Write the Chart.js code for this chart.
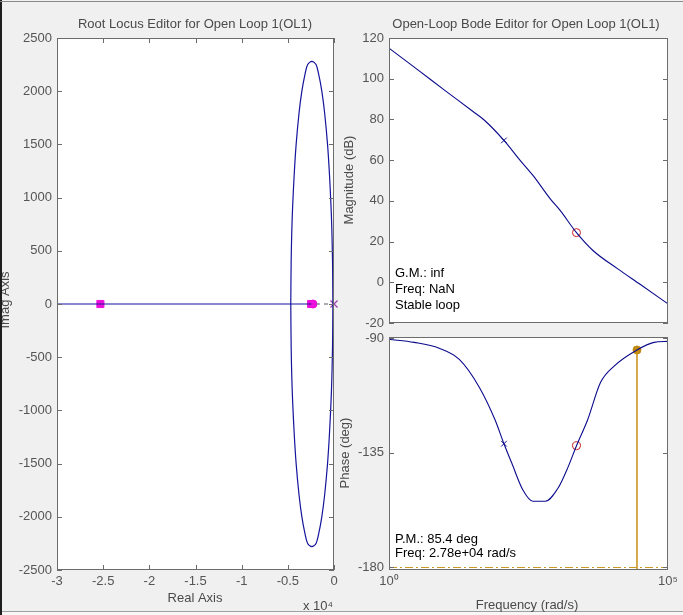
<!DOCTYPE html>
<html>
<head>
<meta charset="utf-8">
<script src="https://cdn.jsdelivr.net/npm/chart.js@4.4.0/dist/chart.umd.min.js"></script>
<style>
  html, body { margin: 0; padding: 0; }
  body { width: 683px; height: 615px; background: #f0f0f0; position: relative; overflow: hidden; }
  canvas { position: absolute; }
  #locus { left: 0; top: 0; }
  #mag { left: 336px; top: 0; }
  #phase { left: 336px; top: 320px; }
  .edge-left { position: absolute; left: 0; top: 0; width: 2px; height: 615px; background: #1e1e1e; }
  .edge-top { position: absolute; left: 0; top: 1px; width: 683px; height: 1px; background: #8a8a8a; }
  .edge-bottom { position: absolute; left: 0; top: 611px; width: 683px; height: 4px; background: #f7f7f7; border-top: 1px solid #a0a0a0; }
</style>
</head>
<body>
<div class="edge-bottom"></div>
<canvas id="locus" width="345" height="615"></canvas>
<canvas id="mag" width="347" height="340"></canvas>
<canvas id="phase" width="347" height="295"></canvas>
<div class="edge-left"></div>
<div class="edge-top"></div>
<script>
// ---- root locus (real axis in units of 1e4) ----
var realTicks = [-3, -2.5, -2, -1.5, -1, -0.5, 0];
var imagTicks = [-2500, -2000, -1500, -1000, -500, 0, 500, 1000, 1500, 2000, 2500];

var branchRe = [-0.468, -0.464, -0.453, -0.432, -0.410, -0.378, -0.348, -0.316, -0.285, -0.24,
                -0.195, -0.164, -0.132, -0.102, -0.070, -0.048, -0.027, -0.016, -0.012];
var upperIm  = [0, 400, 800, 1200, 1500, 1800, 2000, 2150, 2250, 2280,
                2250, 2150, 2000, 1800, 1500, 1200, 800, 400, 0];
var lowerIm  = [0, -400, -800, -1200, -1500, -1800, -2000, -2150, -2250, -2280,
                -2250, -2150, -2000, -1800, -1500, -1200, -800, -400, 0];
var realAxisRe = [-3, -0.245];
var dashedRe = [-0.195, -0.03];
var clPolesRe = [-2.53, -0.248];
var clZeroRe = [-0.228];
var olPoleRe = [0];

// ---- bode ----
var magFreq = [1, 3.16, 10, 31.6, 51.3, 114.8, 223.9, 380.2, 776.2, 1175, 2291, 4571, 12590, 31620, 100000];
var magDb   = [115, 104.7, 94.3, 84, 79.6, 69.7, 59.9, 52.5, 41, 35.2, 24.4, 15.5, 6.6, -1, -10.6];
var magTicks = [-20, 0, 20, 40, 60, 80, 100, 120];

var phFreq = [1, 2.82, 7.94, 18.2, 41.7, 79.4, 114.8, 158.5, 251.2, 380.2, 631, 1072, 1622, 2291,
              3631, 6166, 10720, 27800, 56230, 100000];
var phDeg  = [-90.4, -91.6, -93.9, -98.3, -109.3, -122, -131.4, -139, -149.6, -154, -154, -148.8,
              -140.5, -132.2, -122, -107.4, -101, -94.6, -91.6, -91.2];
var phaseTicks = [-180, -135, -90];
var freqTickValues = [1, 100000];
var freqTickLabels = ['10\u2070', '10\u2075'];

var olPoleFreq = 114.8, olPoleMag = 69.7, olPolePh = -131.4;
var zeroFreq = 2291, zeroMag = 24.4, zeroPh = -132.2;
var pmFreq = 27800, pmPhase = -94.6, phaseFloor = -180;

Chart.defaults.font.family = '"Liberation Sans", Arial, sans-serif';
Chart.defaults.font.size = 13;
Chart.defaults.color = '#555';

function pts(xs, ys) { return xs.map(function (x, i) { return { x: x, y: ys[i] }; }); }

var frame = {
  id: 'frame',
  beforeDatasetsDraw: function (chart) {
    var a = chart.chartArea, c = chart.ctx;
    c.save();
    c.fillStyle = '#ffffff';
    c.fillRect(a.left, a.top, a.right - a.left, a.bottom - a.top);
    c.restore();
  },
  afterDraw: function (chart, args, o) {
    var a = chart.chartArea, c = chart.ctx;
    c.save();
    c.strokeStyle = '#6c6c6c';
    c.lineWidth = 1;
    c.strokeRect(a.left + 0.5, a.top + 0.5, a.right - a.left - 1, a.bottom - a.top - 1);
    c.beginPath();
    if (o.xTicks) {
      chart.scales.x.ticks.forEach(function (t) {
        var p = Math.round(chart.scales.x.getPixelForValue(t.value)) + 0.5;
        c.moveTo(p, a.top); c.lineTo(p, a.top + 5);
        c.moveTo(p, a.bottom); c.lineTo(p, a.bottom - 5);
      });
    }
    chart.scales.y.ticks.forEach(function (t) {
      var p = Math.round(chart.scales.y.getPixelForValue(t.value)) + 0.5;
      c.moveTo(a.left, p); c.lineTo(a.left + 5, p);
      c.moveTo(a.right, p); c.lineTo(a.right - 5, p);
    });
    c.stroke();
    (o.texts || []).forEach(function (t) {
      c.save();
      c.font = (t.size || 13) + 'px "Liberation Sans", Arial, sans-serif';
      c.fillStyle = t.color || '#4a4a4a';
      c.textAlign = t.align || 'center';
      c.textBaseline = 'middle';
      c.translate(t.x, t.y);
      if (t.rot) c.rotate(t.rot);
      c.fillText(t.t, 0, 0);
      c.restore();
    });
    c.restore();
  }
};

function fixW(w) { return function (s) { s.width = w; }; }
function fixH(h) { return function (s) { s.height = h; }; }

// ---- root locus chart ----
new Chart(document.getElementById('locus'), {
  type: 'scatter',
  data: {
    datasets: [
      { data: pts(realAxisRe, [0, 0]), showLine: true, borderColor: '#14149c', borderWidth: 1.2, pointRadius: 0 },
      { data: pts(branchRe, upperIm), showLine: true, borderColor: '#14149c', borderWidth: 1.2, pointRadius: 0, tension: 0.3 },
      { data: pts(branchRe, lowerIm), showLine: true, borderColor: '#14149c', borderWidth: 1.2, pointRadius: 0, tension: 0.3 },
      { data: pts(dashedRe, [0, 0]), showLine: true, borderColor: '#55556a', borderWidth: 1, borderDash: [4, 4], pointRadius: 0 },
      { data: pts(clZeroRe, [0]), pointStyle: 'circle', pointRadius: 4, backgroundColor: '#ee10dd', borderColor: '#ee10dd', borderWidth: 1 },
      { data: pts(clPolesRe, [0, 0]), pointStyle: 'rect', pointRadius: 5, backgroundColor: '#ee10dd', borderColor: '#ee10dd', borderWidth: 1 },
      { data: pts(olPoleRe, [0]), pointStyle: 'crossRot', pointRadius: 5, borderColor: '#a040b0', borderWidth: 1.3, clip: false }
    ]
  },
  options: {
    responsive: false, animation: false, devicePixelRatio: 1,
    layout: { padding: { left: 0, top: 38, right: 11, bottom: 20 } },
    plugins: {
      legend: { display: false }, tooltip: { enabled: false },
      frame: {
        xTicks: true,
        texts: [
          { t: 'Root Locus Editor for Open Loop 1(OL1)', x: 195, y: 24 },
          { t: 'Real Axis', x: 195, y: 598 },
          { t: 'x 10\u2074', x: 318, y: 606 },
          { t: 'Imag Axis', x: 5, y: 300, rot: -Math.PI / 2 }
        ]
      }
    },
    scales: {
      x: {
        type: 'linear', min: -3, max: 0,
        afterBuildTicks: function (s) { s.ticks = realTicks.map(function (v) { return { value: v }; }); },
        afterFit: fixH(25),
        grid: { display: false, drawTicks: false }, border: { display: false },
        ticks: { padding: 4, maxRotation: 0, autoSkip: false, callback: function (v) { return String(v); } }
      },
      y: {
        type: 'linear', min: -2500, max: 2500,
        afterBuildTicks: function (s) { s.ticks = imagTicks.map(function (v) { return { value: v }; }); },
        afterFit: fixW(57),
        grid: { display: false, drawTicks: false }, border: { display: false },
        ticks: { padding: 5, autoSkip: false, callback: function (v) { return String(v); } }
      }
    }
  },
  plugins: [frame]
});

// ---- magnitude chart ----
new Chart(document.getElementById('mag'), {
  type: 'scatter',
  data: {
    datasets: [
      { data: pts(magFreq, magDb), showLine: true, borderColor: '#0a0a8c', borderWidth: 1.1, pointRadius: 0, cubicInterpolationMode: 'monotone' },
      { data: [{ x: olPoleFreq, y: olPoleMag }], pointStyle: 'crossRot', pointRadius: 4, borderColor: '#0a0a8c', borderWidth: 1 },
      { data: [{ x: zeroFreq, y: zeroMag }], pointStyle: 'circle', pointRadius: 4, borderColor: '#c82020', backgroundColor: 'rgba(0,0,0,0)', borderWidth: 1 }
    ]
  },
  options: {
    responsive: false, animation: false, devicePixelRatio: 1,
    layout: { padding: { left: 0, top: 38, right: 15, bottom: 17 } },
    plugins: {
      legend: { display: false }, tooltip: { enabled: false },
      frame: {
        texts: [
          { t: 'Open-Loop Bode Editor for Open Loop 1(OL1)', x: 190, y: 24 },
          { t: 'Magnitude (dB)', x: 13, y: 180, rot: -Math.PI / 2 },
          { t: 'G.M.: inf', x: 59, y: 273, align: 'left', color: '#000' },
          { t: 'Freq: NaN', x: 59, y: 289, align: 'left', color: '#000' },
          { t: 'Stable loop', x: 59, y: 305, align: 'left', color: '#000' }
        ]
      }
    },
    scales: {
      x: { type: 'logarithmic', min: 1, max: 100000, display: false },
      y: {
        type: 'linear', min: -20, max: 120,
        afterBuildTicks: function (s) { s.ticks = magTicks.map(function (v) { return { value: v }; }); },
        afterFit: fixW(53),
        grid: { display: false, drawTicks: false }, border: { display: false },
        ticks: { padding: 5, autoSkip: false }
      }
    }
  },
  plugins: [frame]
});

// ---- phase chart ----
new Chart(document.getElementById('phase'), {
  type: 'scatter',
  data: {
    datasets: [
      { data: [{ x: 1, y: phaseFloor }, { x: 100000, y: phaseFloor }], showLine: true, borderColor: '#c9961e', borderWidth: 1, borderDash: [8, 3, 2, 3], pointRadius: 0 },
      { data: pts(phFreq, phDeg), showLine: true, borderColor: '#0a0a8c', borderWidth: 1.1, pointRadius: 0, cubicInterpolationMode: 'monotone' },
      { data: [{ x: pmFreq, y: pmPhase }, { x: pmFreq, y: -181 }], showLine: true, borderColor: '#c88f12', borderWidth: 1.5, pointRadius: 0 },
      { data: [{ x: pmFreq, y: pmPhase }], pointStyle: 'circle', pointRadius: 4, backgroundColor: '#c08a10', borderColor: '#c08a10', borderWidth: 1 },
      { data: [{ x: olPoleFreq, y: olPolePh }], pointStyle: 'crossRot', pointRadius: 4, borderColor: '#0a0a8c', borderWidth: 1 },
      { data: [{ x: zeroFreq, y: zeroPh }], pointStyle: 'circle', pointRadius: 4, borderColor: '#c82020', backgroundColor: 'rgba(0,0,0,0)', borderWidth: 1 }
    ]
  },
  options: {
    responsive: false, animation: false, devicePixelRatio: 1,
    layout: { padding: { left: 0, top: 17, right: 15, bottom: 20 } },
    plugins: {
      legend: { display: false }, tooltip: { enabled: false },
      frame: {
        texts: [
          { t: 'Phase (deg)', x: 9, y: 133, rot: -Math.PI / 2 },
          { t: 'P.M.: 85.4 deg', x: 59, y: 219, align: 'left', color: '#000' },
          { t: 'Freq: 2.78e+04 rad/s', x: 59, y: 233, align: 'left', color: '#000' },
          { t: 'Frequency (rad/s)', x: 191, y: 285 }
        ]
      }
    },
    scales: {
      x: {
        type: 'logarithmic', min: 1, max: 100000,
        afterBuildTicks: function (s) { s.ticks = freqTickValues.map(function (v) { return { value: v }; }); },
        afterFit: fixH(25),
        grid: { display: false, drawTicks: false }, border: { display: false },
        ticks: { padding: 4, maxRotation: 0, autoSkip: false,
          callback: function (v) { return freqTickLabels[freqTickValues.indexOf(v)]; } }
      },
      y: {
        type: 'linear', min: -181, max: -89.5,
        afterBuildTicks: function (s) { s.ticks = phaseTicks.map(function (v) { return { value: v }; }); },
        afterFit: fixW(53),
        grid: { display: false, drawTicks: false }, border: { display: false },
        ticks: { padding: 5, autoSkip: false }
      }
    }
  },
  plugins: [frame]
});
</script>
</body>
</html>
